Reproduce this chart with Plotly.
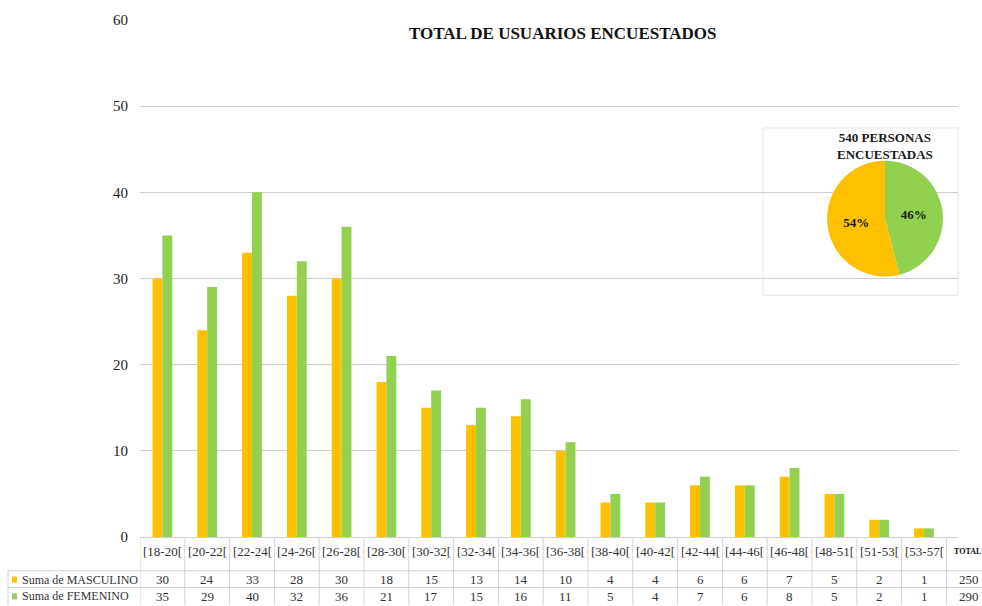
import plotly.graph_objects as go

# ---------------- data ----------------
categories = ["[18-20[", "[20-22[", "[22-24[", "[24-26[", "[26-28[", "[28-30[",
              "[30-32[", "[32-34[", "[34-36[", "[36-38[", "[38-40[", "[40-42[",
              "[42-44[", "[44-46[", "[46-48[", "[48-51[", "[51-53[", "[53-57["]
masculino = [30, 24, 33, 28, 30, 18, 15, 13, 14, 10, 4, 4, 6, 6, 7, 5, 2, 1]
femenino = [35, 29, 40, 32, 36, 21, 17, 15, 16, 11, 5, 4, 7, 6, 8, 5, 2, 1]
total_masculino = 250
total_femenino = 290
series_names = ["Suma de MASCULINO", "Suma de FEMENINO"]
y_ticks = [0, 10, 20, 30, 40, 50, 60]
pie_labels = ["FEMENINO", "MASCULINO"]
pie_values = [46, 54]
title_text = "TOTAL DE USUARIOS ENCUESTADOS"
pie_title = "540 PERSONAS<br>ENCUESTADAS"

# ---------------- style ----------------
ORANGE = "#FFC000"
GREEN = "#92D050"
SERIF = "Liberation Serif"
GRID = "#cfcfcf"
TXT = "#333333"

W, H = 982, 606
L, R, T, B = 140, 958, 15, 537
PW, PH = R - L, B - T
n = len(categories)
colw = 44.8  # pixel width of one category
xmax = -0.5 + PW / colw


def xp(px):
    return (px - L) / PW


def yp(py):
    return (B - py) / PH


fig = go.Figure()
fig.add_trace(go.Bar(x=list(range(n)), y=masculino, name=series_names[0],
                     marker=dict(color=ORANGE, line=dict(width=0))))
fig.add_trace(go.Bar(x=list(range(n)), y=femenino, name=series_names[1],
                     marker=dict(color=GREEN, line=dict(width=0))))

fig.add_trace(go.Pie(labels=pie_labels, values=pie_values, sort=False,
                     direction="clockwise", rotation=0,
                     marker=dict(colors=[GREEN, ORANGE], line=dict(width=0)),
                     textinfo="percent", textposition="inside",
                     insidetextfont=dict(family=SERIF, size=13, color="#1a1a1a"),
                     texttemplate="<b>%{percent:.0%}</b>",
                     domain=dict(x=[xp(820), xp(950)], y=[yp(274), yp(157)]),
                     showlegend=False, hoverinfo="label+percent"))

shapes = []
annotations = []

# inset box for the pie
shapes.append(dict(type="rect", xref="paper", yref="paper",
                   x0=xp(763), x1=xp(958), y0=yp(293), y1=yp(124),
                   fillcolor="white", line=dict(color="#e6e6e6", width=1),
                   layer="between"))
annotations.append(dict(text="<b>" + pie_title + "</b>", xref="paper", yref="paper",
                        x=xp(885), y=yp(142), showarrow=False,
                        font=dict(family=SERIF, size=13, color="#1a1a1a"),
                        xanchor="center", yanchor="middle"))

# title
annotations.append(dict(text="<b>" + title_text + "</b>", xref="paper", yref="paper",
                        x=xp(563), y=yp(29), showarrow=False,
                        font=dict(family=SERIF, size=17, color="#111111"),
                        xanchor="center", yanchor="middle"))

# ---------------- table ----------------
TL = "#d4d4d4"
row1_y, row2_y = 571, 588
for k in range(n + 1):
    shapes.append(dict(type="line", xref="x", yref="paper",
                       x0=k - 0.5, x1=k - 0.5, y0=yp(537), y1=yp(606),
                       line=dict(color=TL, width=1)))
shapes.append(dict(type="line", xref="paper", yref="paper",
                   x0=xp(8), x1=xp(8), y0=yp(row1_y), y1=yp(606),
                   line=dict(color=TL, width=1)))
for yy in (row1_y, row2_y):
    shapes.append(dict(type="line", xref="paper", yref="paper",
                       x0=xp(8), x1=xp(982), y0=yp(yy), y1=yp(yy),
                       line=dict(color=TL, width=1)))

tfont = dict(family=SERIF, size=13, color=TXT)
lfont = dict(family=SERIF, size=12, color=TXT)
for i, c in enumerate(categories):
    annotations.append(dict(text=c, xref="x", yref="paper", x=i, y=yp(552),
                            showarrow=False, font=tfont, xanchor="center", yanchor="middle"))
    annotations.append(dict(text=str(masculino[i]), xref="x", yref="paper", x=i, y=yp(580),
                            showarrow=False, font=tfont, xanchor="center", yanchor="middle"))
    annotations.append(dict(text=str(femenino[i]), xref="x", yref="paper", x=i, y=yp(597),
                            showarrow=False, font=tfont, xanchor="center", yanchor="middle"))

# TOTAL column (lies beyond the axis range, so placed in paper coordinates)
tot_x = L + (n + 0.5) * colw
annotations.append(dict(text="<b>TOTAL</b>", xref="paper", yref="paper", x=xp(952), y=yp(552),
                        showarrow=False, font=dict(family=SERIF, size=8, color="#111"),
                        xanchor="left", yanchor="middle"))
annotations.append(dict(text=str(total_masculino), xref="paper", yref="paper", x=xp(tot_x),
                        y=yp(580), showarrow=False, font=tfont,
                        xanchor="center", yanchor="middle"))
annotations.append(dict(text=str(total_femenino), xref="paper", yref="paper", x=xp(tot_x),
                        y=yp(597), showarrow=False, font=tfont,
                        xanchor="center", yanchor="middle"))

for name, col, yy in ((series_names[0], ORANGE, 580), (series_names[1], GREEN, 597)):
    shapes.append(dict(type="rect", xref="paper", yref="paper",
                       x0=xp(12), x1=xp(17), y0=yp(yy + 3), y1=yp(yy - 3),
                       fillcolor=col, line=dict(width=0)))
    annotations.append(dict(text=name, xref="paper", yref="paper", x=xp(20), y=yp(yy),
                            showarrow=False, font=lfont, xanchor="left", yanchor="middle"))

fig.update_layout(
    width=W, height=H,
    margin=dict(l=L, r=W - R, t=T, b=H - B, pad=0),
    paper_bgcolor="white", plot_bgcolor="white",
    barmode="group", bargap=0.56, bargroupgap=0,
    showlegend=False,
    shapes=shapes, annotations=annotations,
    font=dict(family=SERIF, color=TXT),
)
fig.update_xaxes(range=[-0.5, xmax], showticklabels=False, showgrid=False,
                 zeroline=False, showline=False, ticks="")
fig.update_yaxes(range=[0, 60], tickvals=y_ticks, showgrid=True, gridcolor=GRID,
                 gridwidth=1, zeroline=True, zerolinecolor=GRID, zerolinewidth=1,
                 showline=False, ticks="", ticklabelstandoff=11,
                 tickfont=dict(family=SERIF, size=15, color="#222"))

fig.write_html("out.html", config={"displayModeBar": False},
               post_script="document.body.style.margin='0';document.body.style.overflow='hidden';")
